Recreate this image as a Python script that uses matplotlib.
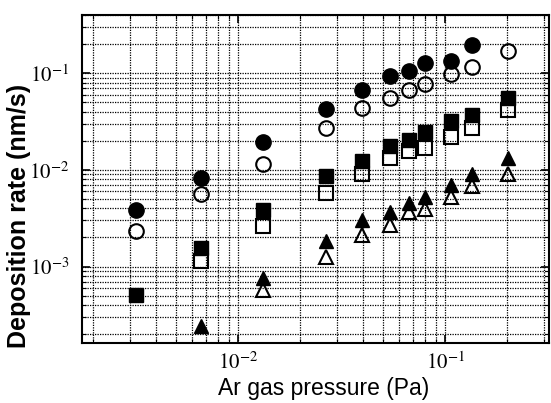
import numpy as np
import matplotlib
matplotlib.use("Agg")
import matplotlib.pyplot as plt
from matplotlib.ticker import LogLocator, FixedLocator, NullFormatter

plt.rcParams['mathtext.fontset'] = 'stix'

# Data (Ar gas pressure in Pa, deposition rate in nm/s)
pressure = [3.2e-3, 6.6e-3, 0.01325, 0.0267, 0.0395, 0.0542, 0.067, 0.0796, 0.1067, 0.135, 0.2005]
filled_circle = [3.87e-3, 8.24e-3, 0.0193, 0.043, 0.0678, 0.093, 0.105, 0.128, 0.133, 0.198, np.nan]
open_circle = [2.31e-3, 5.63e-3, 0.0116, 0.0272, 0.0438, 0.0556, 0.0678, 0.0767, 0.098, 0.115, 0.169]
filled_square = [5.1e-4, 1.55e-3, 3.87e-3, 8.57e-3, 0.01225, 0.01755, 0.0206, 0.0245, 0.0318, 0.0373, 0.0556]
open_square = [np.nan, 1.13e-3, 2.6e-3, 5.75e-3, 9.13e-3, 0.0133, 0.0156, 0.0169, 0.0219, 0.0272, 0.042]
filled_triangle = [np.nan, 2.4e-4, 7.6e-4, 1.82e-3, 3.05e-3, 3.71e-3, 4.54e-3, 5.3e-3, 7.03e-3, 9.1e-3, 0.0133]
open_triangle = [np.nan, np.nan, 5.75e-4, 1.27e-3, 2.13e-3, 2.7e-3, 3.7e-3, 3.9e-3, 5.3e-3, 6.75e-3, 9.1e-3]

x_ticks = [1e-2, 1e-1]
x_ticklabels = [r'$10^{-2}$', r'$10^{-1}$']
y_ticks = [1e-3, 1e-2, 1e-1]
y_ticklabels = [r'$10^{-3}$', r'$10^{-2}$', r'$10^{-1}$']

W, H = 551, 403
fig = plt.figure(figsize=(W / 100, H / 100), dpi=100)
ax = fig.add_axes([82 / W, 1 - 343 / H, (549 - 82) / W, (343 - 15) / H])
ax.set_xscale('log')
ax.set_yscale('log')
ax.set_xlim(1.76e-3, 0.318)
ax.set_ylim(1.62e-4, 0.40)

# grid
ax.grid(True, which='both', color='black', linestyle=(0, (1, 1)), linewidth=0.9)
ax.set_axisbelow(True)

kw = dict(linestyle='none', color='black')
ax.plot(pressure, filled_circle, marker='o', markersize=11, **kw, zorder=3)
ax.plot(pressure, filled_square, marker='s', markersize=10, **kw, zorder=3)
ax.plot(pressure, filled_triangle, marker='^', markersize=10.5, **kw, zorder=3)
ax.plot(pressure, open_circle, marker='o', markersize=10.5, mfc='none', mew=1.5, **kw, zorder=4)
ax.plot(pressure, open_square, marker='s', markersize=9.5, mfc='none', mew=1.5, **kw, zorder=4)
ax.plot(pressure, open_triangle, marker='^', markersize=10, mfc='none', mew=1.5, **kw, zorder=4)

# ticks
ax.xaxis.set_major_locator(FixedLocator(x_ticks))
ax.set_xticklabels(x_ticklabels)
ax.yaxis.set_major_locator(FixedLocator(y_ticks))
ax.set_yticklabels(y_ticklabels)
ax.xaxis.set_minor_locator(LogLocator(base=10, subs=np.arange(2, 10), numticks=20))
ax.yaxis.set_minor_locator(LogLocator(base=10, subs=np.arange(2, 10), numticks=20))
ax.xaxis.set_minor_formatter(NullFormatter())
ax.yaxis.set_minor_formatter(NullFormatter())
ax.tick_params(which='major', direction='in', length=6, width=1.2, top=True, right=True,
               labelsize=15, colors='black')
ax.tick_params(which='minor', direction='in', length=3, width=0.8, top=True, right=True)
ax.tick_params(axis='x', which='major', pad=6)
ax.tick_params(axis='y', which='major', pad=9)
for s in ax.spines.values():
    s.set_linewidth(1.5)
    s.set_color('black')

fig.text(323.5 / W, 1 - 389 / H, 'Ar gas pressure (Pa)', ha='center', va='center',
         fontsize=16.5, family='Liberation Sans')
fig.text(19 / W, 1 - 216 / H, 'Deposition rate (nm/s)', ha='center', va='center',
         rotation=90, fontsize=18, fontweight='bold', family='Liberation Sans')

fig.savefig('out.png', dpi=100, facecolor='white')
